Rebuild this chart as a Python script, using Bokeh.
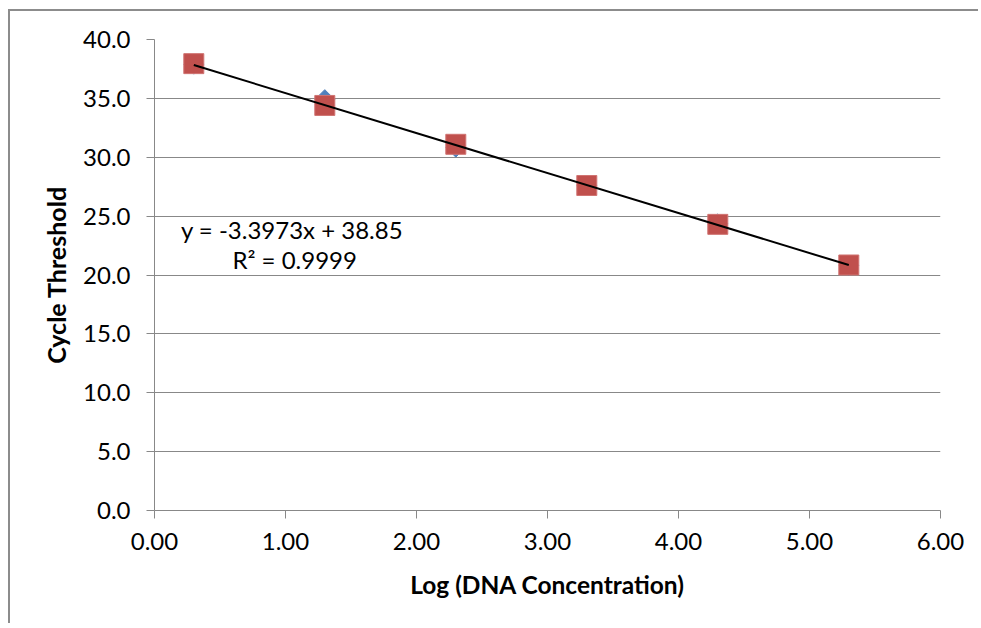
import numpy as np
from bokeh.plotting import figure
from bokeh.layouts import column
from bokeh.models import Range1d, FixedTicker, PrintfTickFormatter
from bokeh.core.properties import value
from bokeh.embed import file_html
from bokeh.resources import INLINE

# ---- data ----
log_conc = [0.30, 1.30, 2.30, 3.30, 4.30, 5.30]
ct_series1 = [37.90, 34.90, 30.85, 27.62, 24.35, 20.82]
ct_series2 = [37.95, 34.40, 31.10, 27.60, 24.30, 20.85]
trend_slope = -3.3973
trend_intercept = 38.85
trend_label = "y = -3.3973x + 38.85"
r2_label = "R² = 0.9999"
x_ticks = [0, 1, 2, 3, 4, 5, 6]
y_ticks = [0, 5, 10, 15, 20, 25, 30, 35, 40]

FONT = "Lato"
GRID = "#888888"

p = figure(width=968, height=612, output_backend="svg", toolbar_location=None,
           x_range=Range1d(0, 6), y_range=Range1d(0, 40),
           min_border_left=144, min_border_right=38, min_border_top=28,
           min_border_bottom=113)
p.outline_line_color = None
p.background_fill_color = "white"
p.border_fill_color = "white"

p.xgrid.grid_line_color = None
p.ygrid.grid_line_color = GRID
p.ygrid.grid_line_width = 1

for ax in (p.xaxis[0], p.yaxis[0]):
    ax.axis_line_color = GRID
    ax.axis_line_width = 1
    ax.major_tick_line_color = GRID
    ax.major_tick_in = 0
    ax.major_tick_out = 8
    ax.minor_tick_line_color = None
    ax.major_label_text_font = FONT
    ax.major_label_text_font_size = "24px"
    ax.major_label_text_color = "black"
    ax.axis_label_text_font = FONT
    ax.axis_label_text_font_style = "bold"
    ax.axis_label_text_color = "black"

p.xaxis.axis_label_text_font_size = "24.5px"
p.yaxis.axis_label_text_font_size = "25px"
p.xaxis.ticker = FixedTicker(ticks=x_ticks)
p.yaxis.ticker = FixedTicker(ticks=y_ticks)
p.xaxis.formatter = PrintfTickFormatter(format="%.2f")
p.yaxis.formatter = PrintfTickFormatter(format="%.1f")
p.xaxis.axis_label = "Log (DNA Concentration)"
p.yaxis.axis_label = "Cycle Threshold"
p.yaxis.major_label_standoff = 16
p.xaxis.major_label_standoff = 14
p.xaxis.axis_label_standoff = 17
p.yaxis.axis_label_standoff = 9

# series 1 (blue diamonds)
p.scatter(log_conc, ct_series1, marker="square", angle=np.pi / 4, size=14,
          fill_color="#4F81BD", line_color="#4F81BD")
# series 2 (red squares)
p.scatter(log_conc, ct_series2, marker="square", size=20,
          fill_color="#C0504D", line_color="#D07472", line_width=1)

# trend line
tx = [min(log_conc), max(log_conc)]
ty = [trend_slope * v + trend_intercept for v in tx]
p.line(tx, ty, line_color="black", line_width=2)

# equation labels
p.text([1.05], [23.85], text=[trend_label], text_align="center",
       text_baseline="alphabetic", text_font=value(FONT),
       text_font_size="24px", text_color="black")
p.text([1.07], [21.3], text=[r2_label], text_align="center",
       text_baseline="alphabetic", text_font=value(FONT),
       text_font_size="24px", text_color="black")

# outer chart-area edge: only left and top visible, as in the cropped reference
layout = column(p, margin=(9, 0, 0, 8),
                styles={"border-left": "2px solid #8c8c8c",
                        "border-top": "2px solid #8c8c8c"})

open("out.html", "w").write(file_html(layout, INLINE))
